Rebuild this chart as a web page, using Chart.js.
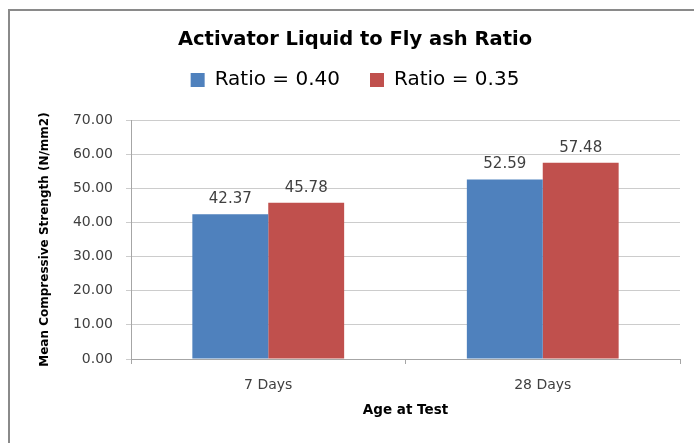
<!DOCTYPE html>
<html>
<head>
<meta charset="utf-8">
<script src="https://cdn.jsdelivr.net/npm/chart.js@4.4.1/dist/chart.umd.min.js"></script>
<style>
html,body{margin:0;padding:0;background:#fff;}
#wrap{position:relative;width:694px;height:443px;}
</style>
</head>
<body>
<div id="wrap"><canvas id="c" width="694" height="443"></canvas></div>
<script>
const categories = ["7 Days", "28 Days"];
const seriesNames = ["Ratio = 0.40", "Ratio = 0.35"];
const ratio040 = [42.37, 52.59];
const ratio035 = [45.78, 57.48];
const yTicks = [0, 10, 20, 30, 40, 50, 60, 70];
const chartTitle = "Activator Liquid to Fly ash Ratio";
const xTitle = "Age at Test";
const yTitle = "Mean Compressive Strength (N/mm2)";

const frame = {
  id: 'frame',
  beforeDraw(chart) {
    const ctx = chart.ctx;
    ctx.save();
    ctx.fillStyle = '#ffffff';
    ctx.fillRect(0, 0, chart.width, chart.height);
    ctx.strokeStyle = '#8a8a8a';
    ctx.lineWidth = 2;
    ctx.beginPath();
    ctx.moveTo(9, 460);
    ctx.lineTo(9, 10);
    ctx.lineTo(710, 10);
    ctx.stroke();
    ctx.restore();
  }
};

const valueLabels = {
  id: 'valueLabels',
  afterDatasetsDraw(chart) {
    const ctx = chart.ctx;
    ctx.save();
    ctx.font = '15px "DejaVu Sans"';
    ctx.fillStyle = '#404040';
    ctx.textAlign = 'center';
    ctx.textBaseline = 'alphabetic';
    chart.data.datasets.forEach((ds, i) => {
      const meta = chart.getDatasetMeta(i);
      meta.data.forEach((bar, j) => {
        ctx.fillText(ds.data[j].toFixed(2), bar.x, bar.y - 11);
      });
    });
    ctx.restore();
  }
};

new Chart(document.getElementById('c'), {
  type: 'bar',
  data: {
    labels: categories,
    datasets: [
      { label: seriesNames[0], data: ratio040, backgroundColor: '#4F81BD' },
      { label: seriesNames[1], data: ratio035, backgroundColor: '#C0504D' }
    ]
  },
  options: {
    responsive: false,
    animation: false,
    devicePixelRatio: 1,
    layout: { padding: { left: 30, right: 14, top: 0, bottom: 0 } },
    datasets: { bar: { categoryPercentage: 0.553, barPercentage: 1.0 } },
    plugins: {
      title: {
        display: true,
        text: chartTitle,
        color: '#000000',
        font: { family: '"DejaVu Sans"', size: 19.5, weight: 'bold', lineHeight: 1.2 },
        padding: { top: 28.3, bottom: -11.7 }
      },
      subtitle: {
        display: true,
        text: ' ',
        weight: 500,
        font: { size: 10, lineHeight: 1 },
        padding: { top: 0, bottom: 10 }
      },
      legend: {
        display: true,
        position: 'top',
        labels: {
          color: '#000000',
          font: { family: '"DejaVu Sans"', size: 20 },
          boxWidth: 14,
          boxHeight: 14,
          padding: 30
        }
      },
      tooltip: { enabled: false }
    },
    scales: {
      x: {
        grid: { display: true, drawOnChartArea: false, drawTicks: true, tickLength: 5, color: '#a6a6a6', offset: true },
        border: { display: true, color: '#a6a6a6', width: 1 },
        ticks: { color: '#404040', font: { family: '"DejaVu Sans"', size: 14 }, padding: 13 },
        title: { display: true, text: xTitle, color: '#000000', font: { family: '"DejaVu Sans"', size: 13.5, weight: 'bold' }, padding: { top: 0, bottom: 24 } },
        afterFit(scale) { scale.height = 84; }
      },
      y: {
        min: 0, max: 70,
        afterBuildTicks(scale) { scale.ticks = yTicks.map(v => ({ value: v })); },
        grid: { color: '#cccccc', tickLength: 5, drawTicks: true },
        border: { display: true, color: '#a6a6a6', width: 1 },
        ticks: { color: '#404040', font: { family: '"DejaVu Sans"', size: 14 }, padding: 13, callback: v => Number(v).toFixed(2) },
        title: { display: true, text: yTitle, color: '#000000', font: { family: '"DejaVu Sans"', size: 12, weight: 'bold' }, padding: { top: 8, bottom: 0 } },
        afterFit(scale) { scale.width = 101; }
      }
    }
  },
  plugins: [frame, valueLabels]
});
</script>
</body>
</html>
